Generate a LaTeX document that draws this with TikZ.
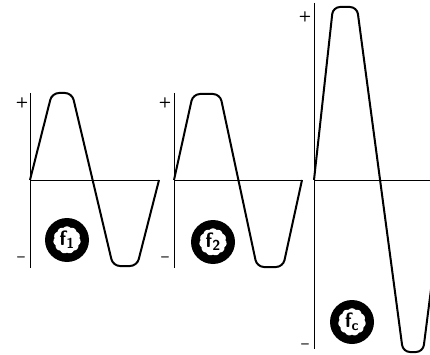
\documentclass[tikz,border=0pt]{standalone}
\usetikzlibrary{shapes.symbols}

\begin{document}
\begin{tikzpicture}[x=1pt, y=-1pt,
  wave/.style={line width=2pt, rounded corners=7pt, line join=round},
  axis/.style={line width=0.8pt},
  sign/.style={font=\sffamily\bfseries\Large, inner sep=0pt},
  badge/.style={circle, fill=black, minimum size=44pt, inner sep=0pt},
  blob/.style={cloud, cloud puffs=11, cloud puff arc=100, aspect=1, fill=white, inner sep=0pt, font=\sffamily\bfseries\huge}]
  \useasboundingbox (0,0) rectangle (430,355);
  \clip (0,0) rectangle (430,355);
  % axes
  \draw[axis] (30,93) -- (30,268);
  \draw[axis] (30,180) -- (159,180);
  \draw[axis] (174,93) -- (174,268);
  \draw[axis] (174,180) -- (302,180);
  \draw[axis] (314,3) -- (314,349);
  \draw[axis] (314,180) -- (430,180);
  % signs
  \node[sign] (p1) at (22,103) {+};
  \node[sign] (m1) at (21,259) {--};
  \node[sign] (p2) at (165,103) {+};
  \node[sign] (m2) at (165,259) {--};
  \node[sign] (p3) at (305,17) {+};
  \node[sign] (m3) at (305,346) {--};
  % waveforms
  \draw[wave] (30,180) -- (52,93) -- (72,93) -- (113,266) -- (137,266) -- (159,180);
  \draw[wave] (174,180) -- (193,94) -- (220,94) -- (257,267) -- (283,267) -- (302,180);
  \draw[wave] (314,180) -- (333,7) -- (357,7) -- (403,352) -- (423,352) -- (445,180);
  % frequency badges
  \node[badge] (f1) at (67,240) {};
  \node[blob] at (f1) {f\textsubscript{1}};
  \node[badge] (f2) at (213,242) {};
  \node[blob] at (f2) {f\textsubscript{2}};
  \node[badge] (fc) at (352,322) {};
  \node[blob] at (fc) {f\textsubscript{c}};
\end{tikzpicture}
\end{document}
